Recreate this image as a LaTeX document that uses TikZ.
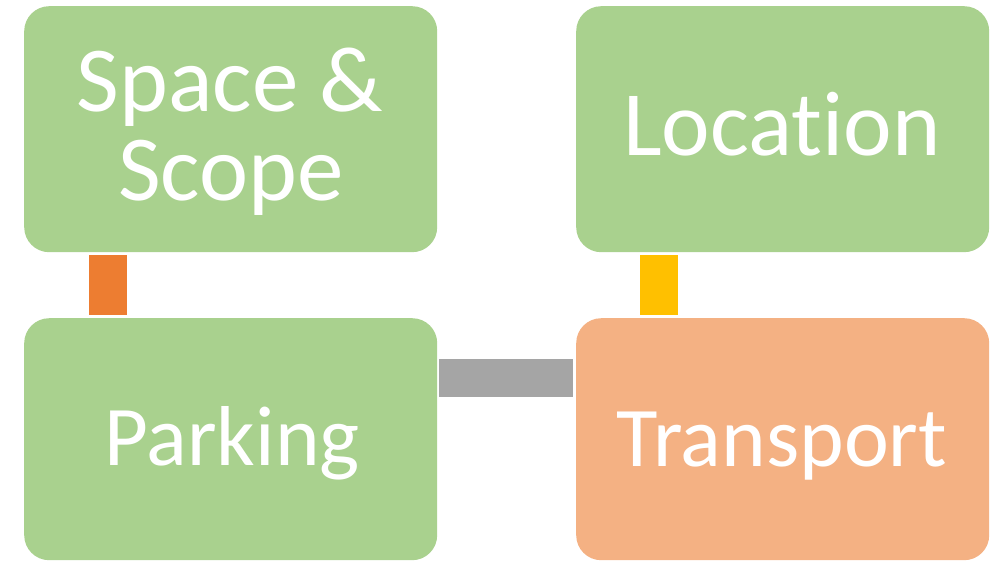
\documentclass[tikz,border=0pt]{standalone}
\usepackage{fontspec}
\setmainfont{Carlito}[Ligatures={NoCommon}]
\definecolor{boxgreen}{HTML}{A9D18E}
\definecolor{boxorange}{HTML}{F4B183}
\definecolor{connorange}{HTML}{ED7D31}
\definecolor{connyellow}{HTML}{FFC000}
\definecolor{conngray}{HTML}{A5A5A5}
\begin{document}
\begin{tikzpicture}[x=1pt,y=-1pt,
  card/.style={rectangle, rounded corners=25pt, inner sep=0pt, minimum width=413pt, minimum height=246pt, anchor=north west},
  big/.style={text=white, inner sep=0pt, anchor=base, font=\fontsize{93}{89}\selectfont},
  mid/.style={text=white, inner sep=0pt, anchor=base, font=\fontsize{85}{89}\selectfont},
  conn/.style={line width=38pt, line cap=butt}]
\useasboundingbox (0,0) rectangle (1002,560);
\node[card, fill=boxgreen] (space) at (24,6) {};
\node[card, fill=boxgreen] (loc) at (576,6) {};
\node[card, fill=boxgreen, minimum height=242pt] (park) at (24,318) {};
\node[card, fill=boxorange, minimum height=242pt] (trans) at (576,318) {};
\node[big] (t1) at (230,111) {Space \&};
\node[big] (t2) at (231,200) {Scope};
\node[big, font=\fontsize{92}{89}\selectfont] (t3) at (782,155) {Location};
\node[mid] (t4) at (232,465) {Parking};
\node[mid] (t5) at (782,466) {Transport};
\draw[conn, connorange] ([xshift=84pt,yshift=-3pt]space.south west) -- ([xshift=84pt,yshift=3pt]park.north west);
\draw[conn, connyellow] ([xshift=83pt,yshift=-3pt]loc.south west) -- ([xshift=83pt,yshift=3pt]trans.north west);
\draw[conn, conngray] ([xshift=2pt,yshift=-60pt]park.north east) -- ([xshift=-3pt,yshift=-60pt]trans.north west);
\end{tikzpicture}
\end{document}
